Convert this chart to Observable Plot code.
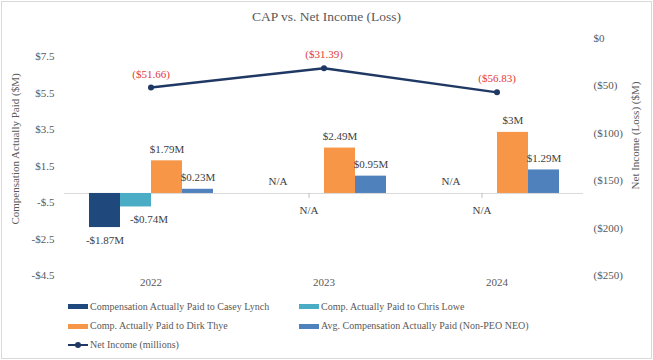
<!DOCTYPE html>
<html>
<head>
<meta charset="utf-8">
<script src="https://cdn.jsdelivr.net/npm/d3@7"></script>
<script src="https://cdn.jsdelivr.net/npm/@observablehq/plot@0.6"></script>
<style>
  html, body { margin: 0; padding: 0; background: #fff; }
  #chart { position: relative; width: 653px; height: 360px; overflow: hidden; font-family: "Liberation Serif", "Times New Roman", serif; color: #595959; }
  #frame { position: absolute; left: 1px; top: 1px; width: 651px; height: 358px; box-sizing: border-box; border: 1px solid #d9d9d9; }
  #title { position: absolute; left: 0; top: 8px; width: 653px; text-align: center; font-size: 13.5px; line-height: 18px; }
  .layer { position: absolute; left: 0; top: 0; }
  .layer svg { display: block; }
  .leg { position: absolute; font-size: 10px; line-height: 12px; white-space: nowrap; display: flex; align-items: center; }
  .sw { display: inline-block; width: 20px; height: 5px; margin-right: 2px; }
  .lsw { position: relative; display: inline-block; width: 20px; height: 8px; margin-right: 2px; }
</style>
</head>
<body>
<div id="chart">
  <div id="frame"></div>
  <div id="title"></div>
  <div id="bars" class="layer"></div>
  <div id="lines" class="layer"></div>
  <div id="legend"></div>
</div>
<script>
// ---- data ----
const title = "CAP vs. Net Income (Loss)";
const years = ["2022", "2023", "2024"];
const seriesNames = [
  "Compensation Actually Paid to Casey Lynch",
  "Comp. Actually Paid to Chris Lowe",
  "Comp. Actually Paid to Dirk Thye",
  "Avg. Compensation Actually Paid (Non-PEO NEO)"
];
const seriesColors = ["#1f497d", "#4bacc6", "#f79646", "#4f81bd"];
const caseyLynch = [-1.87, null, null];
const chrisLowe = [-0.74, null, null];
const dirkThye = [1.79, 2.49, 3.35];
const avgNonPEO = [0.23, 0.95, 1.29];
const caseyLabels = ["-$1.87M", "N/A", "N/A"];
const chrisLabels = ["-$0.74M", "N/A", "N/A"];
const dirkLabels = ["$1.79M", "$2.49M", "$3M"];
const avgLabels = ["$0.23M", "$0.95M", "$1.29M"];
const netIncomeName = "Net Income (millions)";
const netIncome = [-51.66, -31.39, -56.83];
const netIncomeLabels = ["($51.66)", "($31.39)", "($56.83)"];
const lineColor = "#203864";
const labelRed = "#e23a3a";
const leftTicks = [7.5, 5.5, 3.5, 1.5, -0.5, -2.5, -4.5];
const leftTickLabels = ["$7.5", "$5.5", "$3.5", "$1.5", "-$.5", "-$2.5", "-$4.5"];
const rightTicks = [0, -50, -100, -150, -200, -250];
const rightTickLabels = ["$0", "($50)", "($100)", "($150)", "($200)", "($250)"];
const leftTitle = "Compensation Actually Paid ($M)";
const rightTitle = "Net Income (Loss) ($M)";

// ---- build table ----
const seriesValues = [caseyLynch, chrisLowe, dirkThye, avgNonPEO];
const seriesLabels = [caseyLabels, chrisLabels, dirkLabels, avgLabels];
const rows = [];
seriesNames.forEach((s, si) => {
  years.forEach((y, yi) => {
    rows.push({year: y, series: s, si, value: seriesValues[si][yi], label: seriesLabels[si][yi]});
  });
});
const lineRows = years.map((y, i) => ({year: y, value: netIncome[i], label: netIncomeLabels[i]}));

const font = "'Liberation Serif', 'Times New Roman', serif";
const W = 653, H = 290, MT = 38, MB = 15, ML = 63, MR = 70;

document.getElementById("title").textContent = title;

const labelColor = "#404040";
const barsPlot = Plot.plot({
  width: W, height: H, marginTop: MT, marginBottom: MB, marginLeft: ML, marginRight: MR,
  style: {background: "transparent", fontFamily: font, fontSize: "11px", color: "#595959", overflow: "visible"},
  fx: {domain: years, padding: 0, axis: null},
  x: {type: "band", domain: seriesNames, paddingInner: 0, paddingOuter: 0.745, axis: null},
  y: {domain: [-4.5, 8.5], ticks: leftTicks, tickFormat: d => leftTickLabels[leftTicks.indexOf(d)], tickSize: 0, tickPadding: 10, label: null},
  color: {domain: seriesNames, range: seriesColors},
  marks: [
    Plot.ruleY([0], {stroke: "#d9d9d9", strokeWidth: 1}),
    Plot.barY(rows.filter(d => d.value != null), {fx: "year", x: "series", y: "value", fill: "series"}),
    Plot.text(rows.filter(d => d.value != null && d.value >= 0), {fx: "year", x: "series", y: "value", text: "label", dy: -11.5, fill: labelColor, fontSize: 11}),
    Plot.text(rows.filter(d => d.value != null && d.value < 0 && d.si === 0), {fx: "year", x: "series", y: "value", text: "label", dy: 12.5, fill: labelColor, fontSize: 11}),
    Plot.text(rows.filter(d => d.value != null && d.value < 0 && d.si === 1), {fx: "year", x: "series", y: "value", text: "label", dx: 13, dy: 13, fill: labelColor, fontSize: 11}),
    Plot.text(rows.filter(d => d.value == null && d.si === 0), {fx: "year", x: "series", y: () => 0, text: "label", dy: -11.5, fill: labelColor, fontSize: 11}),
    Plot.text(rows.filter(d => d.value == null && d.si === 1), {fx: "year", x: "series", y: () => 0, text: "label", dy: 17, fill: labelColor, fontSize: 11}),
    Plot.ruleX(rows.filter(d => d.value == null && d.si === 1), {fx: "year", x: "series", y1: () => 0, y2: () => 0, insetBottom: -5, stroke: "#bfbfbf", strokeWidth: 1})
  ]
});
document.getElementById("bars").appendChild(barsPlot);

const linePlot = Plot.plot({
  width: W, height: H, marginTop: MT, marginBottom: MB, marginLeft: ML, marginRight: MR,
  style: {background: "transparent", fontFamily: font, fontSize: "11px", color: "#595959", overflow: "visible"},
  x: {type: "band", domain: years, padding: 0, axis: null},
  y: {domain: [-250, 0], axis: "right", ticks: rightTicks, tickFormat: d => rightTickLabels[rightTicks.indexOf(d)], tickSize: 0, tickPadding: 10, label: null},
  marks: [
    Plot.line(lineRows, {x: "year", y: "value", stroke: lineColor, strokeWidth: 2.5}),
    Plot.dot(lineRows, {x: "year", y: "value", fill: lineColor, r: 3}),
    Plot.text(lineRows, {x: "year", y: "value", text: "label", dy: -13.5, fill: labelRed, fontSize: 11}),
    Plot.text(years, {x: d => d, frameAnchor: "bottom", dy: 10, text: d => d, fill: "#595959", fontSize: 11}),
    Plot.text([leftTitle], {frameAnchor: "left", textAnchor: "middle", dx: -48, dy: -8, rotate: -90, text: d => d, fill: "#595959", fontSize: 11}),
    Plot.text([rightTitle], {frameAnchor: "right", textAnchor: "middle", dx: 52, dy: -21.5, rotate: -90, text: d => d, fill: "#595959", fontSize: 11})
  ]
});
const lineLayer = document.getElementById("lines");
lineLayer.style.pointerEvents = "none";
lineLayer.appendChild(linePlot);

// ---- legend ----
const legend = document.getElementById("legend");
const legendPos = [[68, 306.7], [299, 306.7], [68, 326], [299, 326]];
seriesNames.forEach((s, i) => {
  const el = document.createElement("div");
  el.className = "leg";
  el.style.left = legendPos[i][0] + "px";
  el.style.top = (legendPos[i][1] - 6) + "px";
  const sw = document.createElement("span");
  sw.className = "sw";
  sw.style.background = seriesColors[i];
  el.appendChild(sw);
  el.appendChild(document.createTextNode(s));
  legend.appendChild(el);
});
const lel = document.createElement("div");
lel.className = "leg";
lel.style.left = "68px";
lel.style.top = (345 - 6) + "px";
lel.innerHTML = `<span class="lsw"><span style="position:absolute;left:0;top:3px;width:20px;height:2px;background:${lineColor}"></span><span style="position:absolute;left:7px;top:1px;width:6px;height:6px;border-radius:50%;background:${lineColor}"></span></span>`;
lel.appendChild(document.createTextNode(netIncomeName));
legend.appendChild(lel);
</script>
</body>
</html>
